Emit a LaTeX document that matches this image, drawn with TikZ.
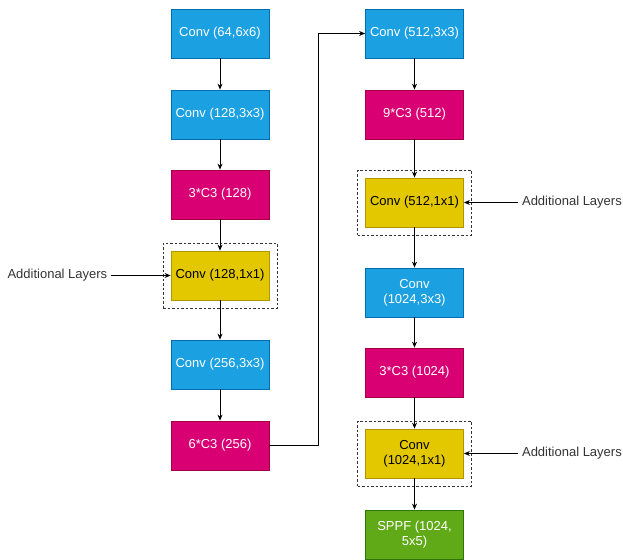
\documentclass[tikz,border=0pt]{standalone}
\usepackage{fontspec}
\setmainfont{Liberation Sans}
\usepackage{tikz}
\usetikzlibrary{arrows.meta}

\definecolor{convblue}{HTML}{1BA1E2}
\definecolor{convline}{HTML}{006EAF}
\definecolor{cthree}{HTML}{D80073}
\definecolor{cthreeline}{HTML}{A50040}
\definecolor{addyellow}{HTML}{E3C800}
\definecolor{addline}{HTML}{B09500}
\definecolor{sppfgreen}{HTML}{60A917}
\definecolor{sppfline}{HTML}{2D7600}
\definecolor{labelgrey}{HTML}{333333}

\begin{document}
\begin{tikzpicture}[x=1pt,y=-1pt,
	font=\fontsize{13}{15}\selectfont,
	layer/.style={minimum width=98pt,minimum height=49pt,align=center,inner sep=2pt,line width=0.8pt},
	conv/.style={layer,fill=convblue,draw=convline,text=white},
	cblock/.style={layer,fill=cthree,draw=cthreeline,text=white},
	extra/.style={layer,fill=addyellow,draw=addline,text=black},
	sppf/.style={layer,fill=sppfgreen,draw=sppfline,text=white},
	dashbox/.style={draw=labelgrey,dashed,dash pattern=on 2.5pt off 2pt,minimum width=114pt,minimum height=65pt,line width=0.8pt},
	flow/.style={-{Stealth[length=6pt,width=5pt]},line width=0.8pt}]
	\useasboundingbox (0,0) rectangle (623,559);
	% left column
	\node[dashbox] (dleft) at (220,275.5) {};
	\node[conv] (c64) at (220,33.5) {Conv (64,6x6)};
	\node[conv] (c128) at (220,114.5) {Conv (128,3x3)};
	\node[cblock] (b128) at (220,194.5) {3*C3 (128)};
	\node[extra] (e128) at (220,275.5) {Conv (128,1x1)};
	\node[conv] (c256) at (220,364.5) {Conv (256,3x3)};
	\node[cblock] (b256) at (220,445.5) {6*C3 (256)};
	\node[anchor=west,text=labelgrey] (addleft) at (4,275.5) {Additional Layers};
	% right column
	\node[dashbox] (dtop) at (414.5,202.5) {};
	\node[dashbox] (dbot) at (414.5,453.5) {};
	\node[conv] (c512) at (414.5,33.5) {Conv (512,3x3)};
	\node[cblock] (b512) at (414.5,114.5) {9*C3 (512)};
	\node[extra] (e512) at (414.5,202.5) {Conv (512,1x1)};
	\node[conv] (c1024) at (414.5,292.5) {Conv\\(1024,3x3)};
	\node[cblock] (b1024) at (414.5,372.5) {3*C3 (1024)};
	\node[extra] (e1024) at (414.5,453.5) {Conv\\(1024,1x1)};
	\node[sppf] (spp) at (414.5,534.5) {SPPF (1024,\\5x5)};
	\node[anchor=east,text=labelgrey,inner xsep=1pt] (addtop) at (623,202.5) {Additional Layers};
	\node[anchor=east,text=labelgrey,inner xsep=1pt] (addbot) at (623,453.5) {Additional Layers};
	\coordinate (bend) at (318,445.5);
	% connectors
	\draw[flow] (c64) -- (c128);
	\draw[flow] (c128) -- (b128);
	\draw[flow] (b128) -- (e128);
	\draw[flow] (e128) -- (c256);
	\draw[flow] (c256) -- (b256);
	\draw[flow] (b256) -- (bend) |- (c512);
	\draw[flow] (c512) -- (b512);
	\draw[flow] (b512) -- (e512);
	\draw[flow] (e512) -- (c1024);
	\draw[flow] (c1024) -- (b1024);
	\draw[flow] (b1024) -- (e1024);
	\draw[flow] (e1024) -- (spp);
	\draw[flow] (addleft) -- (e128);
	\draw[flow] ([xshift=-3pt]addtop.west) -- (e512);
	\draw[flow] ([xshift=-3pt]addbot.west) -- (e1024);
\end{tikzpicture}
\end{document}
